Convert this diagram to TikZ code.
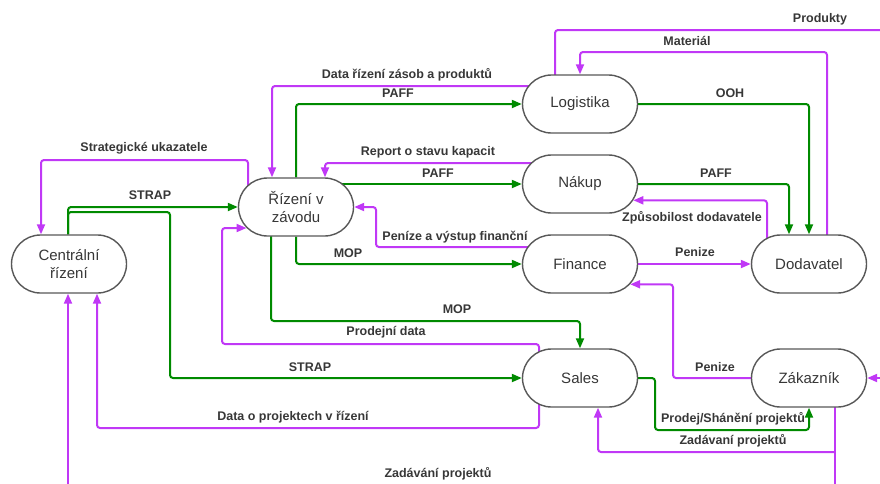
\documentclass[tikz,border=0pt]{standalone}
\usepackage{fontspec}
\setmainfont{Liberation Sans}
\definecolor{flowgreen}{RGB}{0,138,0}
\definecolor{flowpurple}{RGB}{192,56,246}
\definecolor{nodegray}{RGB}{88,88,88}
\definecolor{textgray}{RGB}{55,55,55}
\usetikzlibrary{arrows.meta,positioning,shapes.misc}
\pgfdeclarelayer{bg}
\pgfsetlayers{bg,main}

\begin{document}
\begin{tikzpicture}[
  x=1pt, y=-1pt,
  procnode/.style={
    rounded rectangle,
    minimum width=115pt, minimum height=58pt, inner sep=0pt,
    draw=nodegray, line width=1.4pt,
    fill=white,
    font=\fontsize{15}{18.5}\selectfont,
    align=center,
    text=textgray
  },
  flowlbl/.style={font=\fontsize{12.5}{14}\selectfont\bfseries, text=textgray, inner sep=0pt},
  gconn/.style={-{Triangle[length=10pt,width=8pt]}, line width=2pt, draw=flowgreen, rounded corners=3pt},
  pconn/.style={-{Triangle[length=10pt,width=8pt]}, line width=2pt, draw=flowpurple, rounded corners=3pt},
  pline/.style={line width=2pt, draw=flowpurple, rounded corners=3pt}
]
\useasboundingbox (0,0) rectangle (880,483);

\node[procnode] (centralni) at (69,264)  {Centrální\\řízení};
\node[procnode] (rizeni)    at (296,207) {Řízení v\\závodu};
\node[procnode] (logistika) at (580,104) {Logistika};
\node[procnode] (nakup)     at (580,184) {Nákup};
\node[procnode] (finance)   at (580,264) {Finance};
\node[procnode] (sales)     at (580,378) {Sales};
\node[procnode] (dodavatel) at (809,264) {Dodavatel};
\node[procnode] (zakaznik)  at (809,378) {Zákazník};

\coordinate (prodout) at (882,30);
\coordinate (zakin)   at (882,378);
\coordinate (zakout)  at (835,486);
\coordinate (cenin)   at (68,486);

\begin{pgfonlayer}{bg}
% green flows
\draw[gconn] (rizeni.north) |- (logistika.west);
\draw[gconn] (rizeni.center |- nakup.west) -- (nakup.west);
\draw[gconn] (rizeni.south) |- (finance.west);
\draw[gconn] (rizeni.center -| 271,0) |- (sales.north |- 0,321) -- (sales.north);
\draw[gconn] (centralni.north -| 68,0) |- (rizeni.west);
\draw[gconn] (centralni.north -| 68,0) |- (170,212) |- (sales.west);
\draw[gconn] (logistika.east) -| (dodavatel.north);
\draw[gconn] (nakup.east) -| (dodavatel.north -| 789,0);
\draw[gconn] (sales.east) -| (655,430) -| (zakaznik.south);

% purple flows
\draw[pconn] (logistika.center |- 0,86) -| (rizeni.north -| 272,0);
\draw[pconn] (rizeni.center -| 248,0) |- (41,160) -- (centralni.north -| 41,0);
\draw[pconn] (nakup.center |- 0,163) -| (rizeni.north -| 325,0);
\draw[pconn] (finance.center |- 0,247) -| (rizeni.east -| 376,0) -- (rizeni.east);
\draw[pconn] (sales.center -| 539,0) |- (222,344) |- (rizeni.203);
\draw[pconn] (sales.center -| 539,0) |- (97,428) -- (centralni.south -| 97,0);
\draw[pconn] (cenin) -- (centralni.south -| 68,0);
\draw[pconn] (dodavatel.center -| 827,0) |- (logistika.north |- 0,52) -- (logistika.north);
\draw[pline] (logistika.center -| 555,0) |- (prodout);
\draw[pconn] (dodavatel.center -| 767,0) |- (nakup.-17);
\draw[pconn] (finance.east) -- (dodavatel.west);
\draw[pconn] (zakaznik.west) -| (finance.-22 -| 673,0) -- (finance.-22);
\draw[pconn] (zakin) -- (zakaznik.east);
\draw[pline] (zakaznik.center -| 835,0) -- (zakout);
\draw[pconn] (835,452) -| (sales.south -| 598,0);
\end{pgfonlayer}

% labels
\node[flowlbl] (lprod)  at (820,19)  {Produkty};
\node[flowlbl] (lmat)   at (687,41)  {Materiál};
\node[flowlbl] (ldata)  at (407,75)  {Data řízení zásob a produktů};
\node[flowlbl] (lpaff1) at (398,93)  {PAFF};
\node[flowlbl] (looh)   at (730,93)  {OOH};
\node[flowlbl] (lstrat) at (144,148) {Strategické ukazatele};
\node[flowlbl] (lrep)   at (428,152) {Report o stavu kapacit};
\node[flowlbl] (lpaff2) at (438,173) {PAFF};
\node[flowlbl] (lpaff3) at (716,173) {PAFF};
\node[flowlbl] (lstr1)  at (150,195) {STRAP};
\node[flowlbl] (lzpus)  at (692,218) {Způsobilost dodavatele};
\node[flowlbl] (lpen1)  at (455,237) {Peníze a výstup finanční};
\node[flowlbl] (lmop1)  at (348,253) {MOP};
\node[flowlbl] (lpen2)  at (695,252) {Penize};
\node[flowlbl] (lmop2)  at (457,309) {MOP};
\node[flowlbl] (lpdata) at (386,332) {Prodejní data};
\node[flowlbl] (lstr2)  at (310,367) {STRAP};
\node[flowlbl] (lpen3)  at (715,367) {Penize};
\node[flowlbl] (lproj)  at (293,417) {Data o projektech v řízení};
\node[flowlbl] (lshan)  at (733,419) {Prodej/Shánění projektů};
\node[flowlbl] (lzad1)  at (733,441) {Zadávaní projektů};
\node[flowlbl] (lzad2)  at (438,474) {Zadávání projektů};
\end{tikzpicture}
\end{document}
